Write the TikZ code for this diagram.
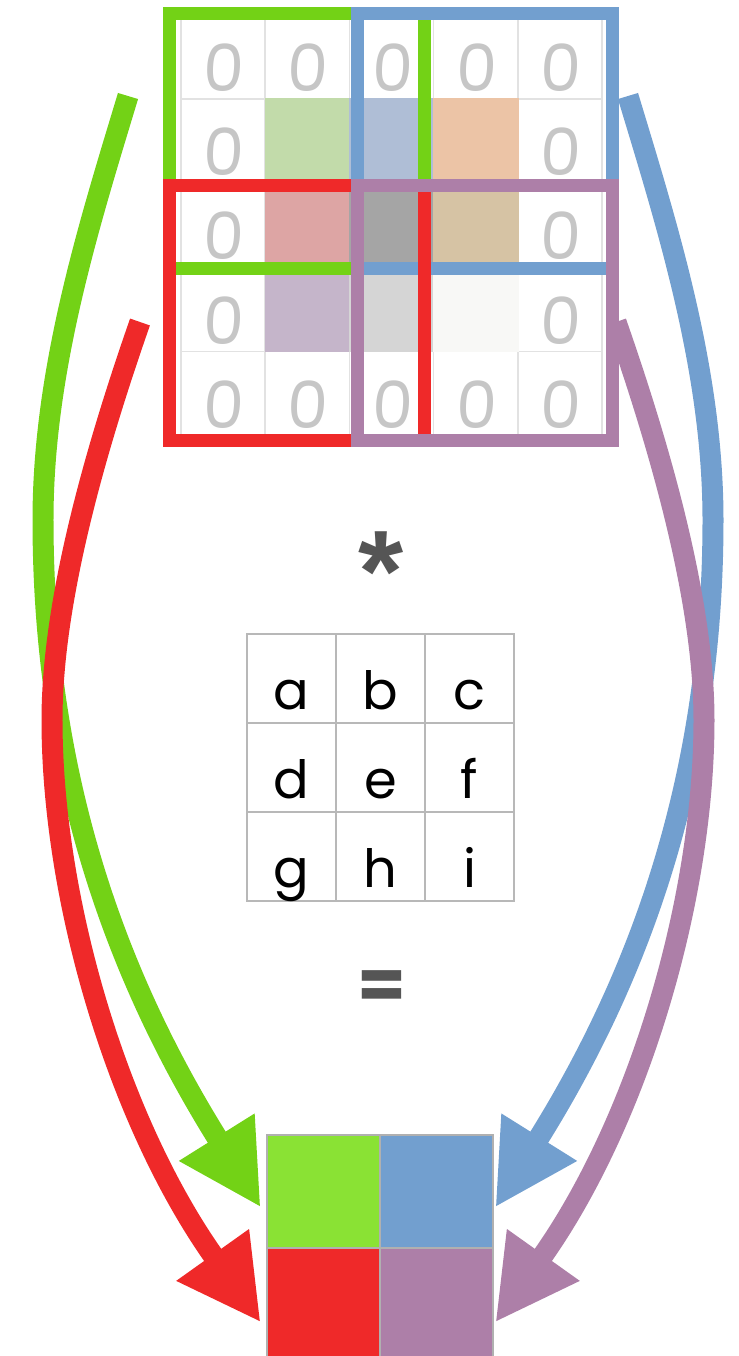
\documentclass[tikz,border=0pt]{standalone}
\usepackage{fontspec}
\setmainfont{Poppins}
\newfontfamily\zerofont[FakeSlant=0.05]{Poppins}
\newfontfamily\signfont{Liberation Sans}
\usetikzlibrary{positioning,arrows.meta,calc}

\definecolor{wingreen}{HTML}{73D216}
\definecolor{winblue}{HTML}{729FCF}
\definecolor{winred}{HTML}{EF2929}
\definecolor{winpurple}{HTML}{AD7FA8}
\definecolor{outgreen}{HTML}{8AE234}
\definecolor{gridline}{HTML}{E2E2E2}
\definecolor{zerogray}{HTML}{C6C6C6}
\definecolor{kernelline}{HTML}{B8B8B8}
\definecolor{outline}{HTML}{B0B0B0}
\definecolor{signgray}{HTML}{555555}
\definecolor{pale22}{HTML}{C2DBAA}
\definecolor{pale23}{HTML}{AFBED6}
\definecolor{pale24}{HTML}{ECC4A6}
\definecolor{pale32}{HTML}{DDA5A4}
\definecolor{pale33}{HTML}{A5A5A5}
\definecolor{pale34}{HTML}{D6C3A4}
\definecolor{pale42}{HTML}{C5B5CA}
\definecolor{pale43}{HTML}{D5D5D5}
\definecolor{pale44}{HTML}{F8F8F6}

\begin{document}
\begin{tikzpicture}[x=0.02cm, y=-0.02cm,
  cell/.style={draw=gridline, line width=0.8pt, minimum size=1.684cm, inner sep=0pt},
  zero/.style={anchor=base, text=zerogray, font=\zerofont\fontsize{37}{40}\selectfont},
  window/.style={line width=0.26cm, minimum size=5.12cm, inner sep=0pt},
  kcell/.style={draw=kernelline, line width=1.4pt, minimum size=1.78cm, inner sep=0pt},
  letter/.style={anchor=base, font=\fontsize{30}{34}\selectfont},
  ocell/.style={draw=outline, line width=1.4pt, minimum size=2.26cm, inner sep=0pt},
  sign/.style={text=signgray, inner sep=0pt, font=\bfseries\fontsize{#1}{#1}\selectfont},
  flow/.style={line width=0.42cm, -{Triangle[length=1.66cm, width=1.66cm]}}]

\useasboundingbox (0,0) rectangle (738,1356);

% padded input
\foreach \row in {1,...,5}
  \foreach \col in {1,...,5}
    \node[cell] (p\row\col) at ({223.1+84.2*(\col-1)},{56.8+84.2*(\row-1)}) {};
\foreach \row/\col in {2/2,2/3,2/4,3/2,3/3,3/4,4/2,4/3,4/4}
  \fill[pale\row\col] (p\row\col.north west) rectangle (p\row\col.south east);
\foreach \row/\col in {1/1,1/2,1/3,1/4,1/5,2/1,2/5,3/1,3/5,4/1,4/5,5/1,5/2,5/3,5/4,5/5}
  \node[zero] at ($(p\row\col.south)+(0,-8)$) {0};

% sliding windows
\node[window, draw=wingreen] (wG) at (297,141) {};
\node[window, draw=winblue] (wB) at (485,141) {};
\node[window, draw=winred] (wR) at (297,313) {};
\node[window, draw=winpurple] (wP) at (485,313) {};

\node[sign=66, anchor=north, font=\signfont\bfseries\fontsize{66}{66}\selectfont] (times) at (381,531) {*};

% kernel
\foreach \row/\col/\ch in {1/1/a,1/2/b,1/3/c,2/1/d,2/2/e,2/3/f,3/1/g,3/2/h,3/3/i} {
  \node[kcell] (k\row\col) at ({291.5+89*(\col-1)},{678.5+89*(\row-1)}) {};
  \node[letter] at ($(k\row\col.south)+(0,-15)$) {\ch};
}

\node[sign=40] (equals) at (382,990) {=};

% output
\node[ocell, fill=outgreen] (oG) at (323.5,1191.5) {};
\node[ocell, fill=winblue] (oB) at (436.5,1191.5) {};
\node[ocell, fill=winred] (oR) at (323.5,1304.5) {};
\node[ocell, fill=winpurple] (oP) at (436.5,1304.5) {};

\coordinate (gs) at (128,96);
\coordinate (bs) at (628,96);
\coordinate (rs) at (140,322);
\coordinate (ps) at (616,322);

\draw[flow, wingreen] (gs) .. controls (89,225) and (43,370) .. (43,520)
  .. controls (43,760) and (107,962) .. ($(oG.west)+(-5,16)$);
\draw[flow, winblue] (bs) .. controls (667,225) and (713,370) .. (713,520)
  .. controls (713,760) and (649,962) .. ($(oB.east)+(1,16)$);
\draw[flow, winred] (rs) .. controls (96,448) and (52,600) .. (52,720)
  .. controls (52,900) and (118,1122) .. ($(oR.west)+(-5,18)$);
\draw[flow, winpurple] (ps) .. controls (660,448) and (704,600) .. (704,720)
  .. controls (704,900) and (638,1122) .. ($(oP.east)+(1,18)$);

\end{tikzpicture}
\end{document}
